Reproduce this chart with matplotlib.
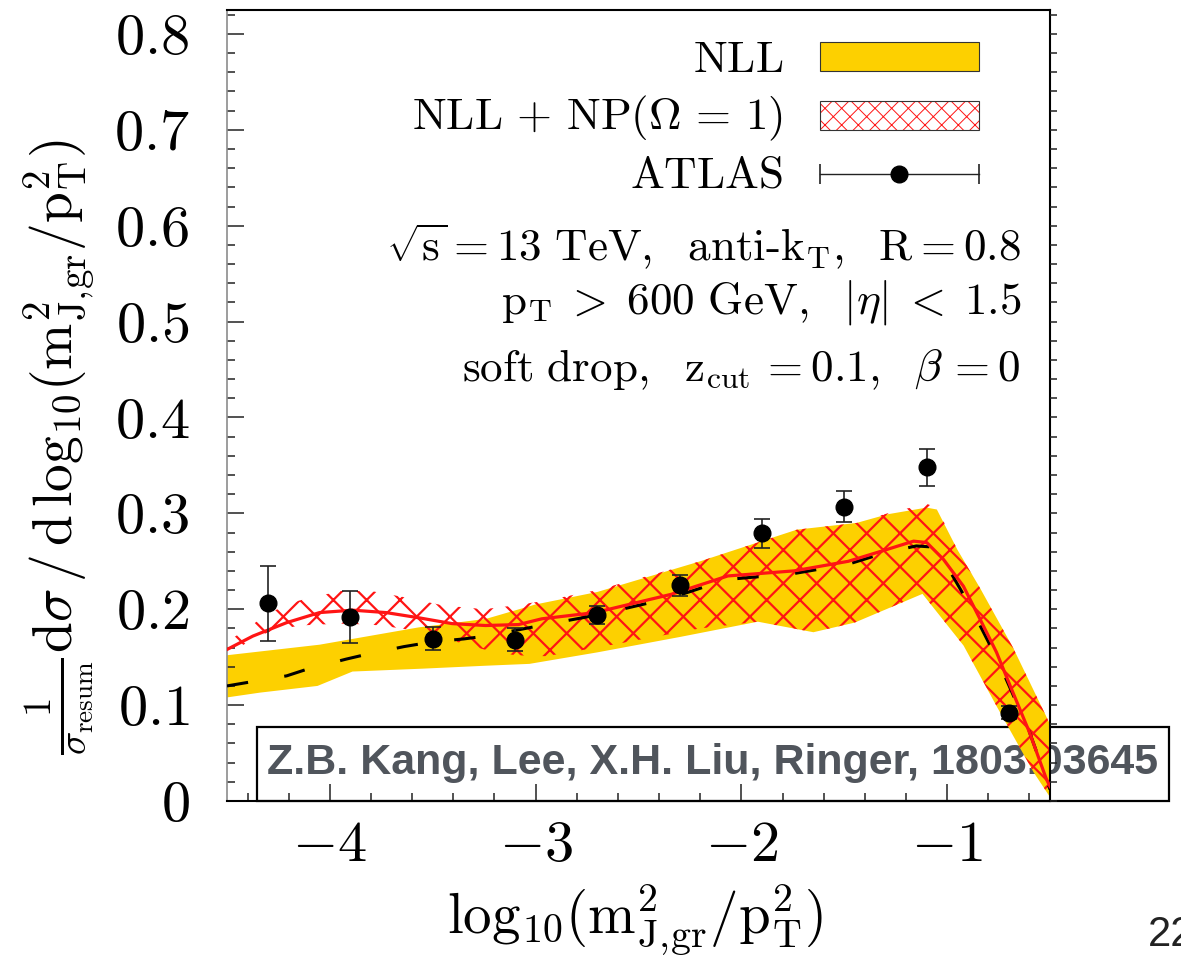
import matplotlib
matplotlib.use("Agg")
import matplotlib.pyplot as plt
from matplotlib.patches import Rectangle
from matplotlib.lines import Line2D
from matplotlib.ticker import FixedLocator, FixedFormatter, MultipleLocator

plt.rcParams["mathtext.fontset"] = "cm"
plt.rcParams["font.family"] = "serif"
plt.rcParams["font.serif"] = ["cmr10"]
plt.rcParams["axes.formatter.use_mathtext"] = True
plt.rcParams["hatch.linewidth"] = 1.6

# ---- ATLAS measurement -------------------------------------------------
atlas_x = [-4.3, -3.9, -3.5, -3.1, -2.7, -2.3, -1.9, -1.5, -1.1, -0.7]
atlas_y = [0.206, 0.192, 0.169, 0.168, 0.194, 0.225, 0.279, 0.307, 0.348, 0.092]
atlas_err = [0.039, 0.027, 0.012, 0.012, 0.0095, 0.011, 0.015, 0.016, 0.019, 0.007]

# ---- NLL band (scale variation envelope) -------------------------------
nll_lo_x = [-4.5, -4.34, -4.06, -3.89, -3.55, -3.25, -3.03, -2.70, -2.30, -1.92,
            -1.65, -1.45, -1.12, -0.92, -0.76, -0.58, -0.5]
nll_lo_y = [0.108, 0.113, 0.120, 0.135, 0.138, 0.141, 0.143, 0.155, 0.171, 0.187,
            0.176, 0.186, 0.216, 0.162, 0.099, 0.030, 0.004]
nll_up_x = [-4.5, -4.05, -3.89, -3.57, -3.24, -3.0, -2.7, -2.2, -1.73, -1.44,
            -1.29, -1.1, -1.05, -0.95, -0.84, -0.68, -0.5]
nll_up_y = [0.152, 0.163, 0.169, 0.181, 0.190, 0.205, 0.218, 0.250, 0.283, 0.290,
            0.299, 0.306, 0.304, 0.262, 0.222, 0.160, 0.080]

# NLL central value
nll_c_x = [-4.5, -4.39, -4.21, -4.11, -3.92, -3.82, -3.64, -3.5, -3.35, -3.24,
           -3.0, -2.7, -2.34, -2.07, -1.75, -1.48, -1.3, -1.15, -1.08, -1.02,
           -0.89, -0.75, -0.6, -0.5]
nll_c_y = [0.120, 0.124, 0.1305, 0.1375, 0.148, 0.153, 0.161, 0.166, 0.169, 0.172,
           0.182, 0.194, 0.212, 0.231, 0.237, 0.247, 0.259, 0.266, 0.265, 0.252,
           0.204, 0.145, 0.072, 0.012]

# ---- NLL + NP(Omega = 1) band ------------------------------------------
np_lo_x = [-4.5, -4.4, -4.3, -4.15, -3.95, -3.8, -3.65, -3.45, -3.25, -3.1, -2.95,
           -2.7, -2.45, -2.2, -1.92, -1.65, -1.45, -1.12, -0.92, -0.76, -0.58, -0.5]
np_lo_y = [0.150, 0.166, 0.176, 0.183, 0.185, 0.184, 0.180, 0.170, 0.158, 0.152, 0.151,
           0.160, 0.170, 0.180, 0.187, 0.176, 0.186, 0.216, 0.162, 0.099, 0.030, 0.004]
np_up_x = [-4.5, -4.4, -4.3, -4.15, -3.95, -3.8, -3.65, -3.45, -3.25, -3.1, -2.95,
           -2.7, -2.2, -1.73, -1.44, -1.29, -1.1, -1.05, -0.95, -0.84, -0.68, -0.5]
np_up_y = [0.166, 0.180, 0.196, 0.209, 0.219, 0.219, 0.213, 0.204, 0.200, 0.204, 0.209,
           0.220, 0.250, 0.283, 0.290, 0.300, 0.310, 0.306, 0.262, 0.222, 0.160, 0.080]

# NLL + NP central value
np_c_x = [-4.5, -4.374, -4.21, -4.05, -3.889, -3.727, -3.566, -3.406, -3.244, -3.083,
          -2.97, -2.711, -2.34, -2.066, -1.744, -1.48, -1.29, -1.163, -1.099, -1.018,
          -0.921, -0.841, -0.76, -0.68, -0.6, -0.518, -0.5]
np_c_y = [0.158, 0.172, 0.186, 0.1965, 0.199, 0.1965, 0.191, 0.185, 0.183, 0.184,
          0.190, 0.1965, 0.2156, 0.2347, 0.240, 0.250, 0.2625, 0.271, 0.2695, 0.252,
          0.224, 0.190, 0.155, 0.113, 0.0716, 0.023, 0.015]

x_major = [-4, -3, -2, -1]
x_labels = [r"$-4$", r"$-3$", r"$-2$", r"$-1$"]
y_major = [0.0, 0.1, 0.2, 0.3, 0.4, 0.5, 0.6, 0.7, 0.8]
y_labels = [r"$0$", r"$0.1$", r"$0.2$", r"$0.3$", r"$0.4$", r"$0.5$", r"$0.6$",
            r"$0.7$", r"$0.8$"]

YELLOW = "#fdd000"
RED = "#ff1414"

fig = plt.figure(figsize=(11.81, 9.69), dpi=100)
ax = fig.add_axes([0.1922, 0.1734, 0.6969, 0.8163])
ax.set_xlim(-4.5, -0.5)
ax.set_ylim(0, 0.825)

# bands
ax.fill(list(nll_lo_x) + nll_up_x[::-1], list(nll_lo_y) + nll_up_y[::-1],
        facecolor=YELLOW, edgecolor="none", lw=0, zorder=1)
ax.fill(list(np_lo_x) + np_up_x[::-1], list(np_lo_y) + np_up_y[::-1],
        facecolor="none", edgecolor=RED, hatch="x", lw=0, zorder=2)

# central curves
ax.plot(nll_c_x, nll_c_y, color="black", lw=2.2, ls=(0, (7, 12)), zorder=3)
ax.plot(np_c_x, np_c_y, color=RED, lw=2.3, zorder=4)

# data
ax.errorbar(atlas_x, atlas_y, yerr=atlas_err, fmt="o", color="black",
            ms=12, elinewidth=1.2, capsize=5.5, capthick=1.2, ecolor="#222222",
            zorder=6)

# axes styling
ax.xaxis.set_major_locator(FixedLocator(x_major))
ax.xaxis.set_major_formatter(FixedFormatter(x_labels))
ax.xaxis.set_minor_locator(MultipleLocator(0.2))
ax.yaxis.set_major_locator(FixedLocator(y_major))
ax.yaxis.set_major_formatter(FixedFormatter(y_labels))
ax.yaxis.set_minor_locator(MultipleLocator(0.02))
ax.tick_params(axis="both", which="both", direction="in", top=False, right=False,
               color="#222222")
ax.tick_params(axis="both", which="major", length=12, width=1.1, labelsize=42)
ax.tick_params(axis="both", which="minor", length=6, width=1.1)
ax.tick_params(axis="x", which="major", pad=14)
ax.tick_params(axis="y", which="major", pad=27)

ax.spines["left"].set_color("#8c8c8c")
ax.spines["left"].set_linewidth(1.2)
for s in ("bottom", "top", "right"):
    ax.spines[s].set_color("black")
    ax.spines[s].set_linewidth(1.5)

# outward ticks on the right-hand frame
axr = ax.twinx()
axr.set_ylim(ax.get_ylim())
axr.yaxis.set_major_locator(FixedLocator(y_major))
axr.yaxis.set_minor_locator(MultipleLocator(0.02))
axr.tick_params(axis="y", which="both", direction="out", length=5, width=1.1,
                labelright=False, color="#222222")
for s in axr.spines.values():
    s.set_visible(False)

ax.set_xlabel(r"$\mathrm{log}_{10}(\mathrm{m}^2_{\mathrm{J},\!\mathrm{gr}}/\mathrm{p}^2_{\mathrm{T}})$",
              fontsize=41)
ax.xaxis.set_label_coords(0.496, -0.104)
ax.set_ylabel(r"$\frac{1}{\sigma_{\mathrm{resum}}}\mathrm{d}\sigma\,/\,\mathrm{d}\,\mathrm{log}_{10}"
              r"(\mathrm{m}^2_{\mathrm{J},\!\mathrm{gr}}/\mathrm{p}^2_{\mathrm{T}})$", fontsize=40)
ax.yaxis.set_label_coords(-0.157, 0.447)

# legend, drawn in axes coordinates
tr = ax.transAxes
fs = 32.5
ax.add_patch(Rectangle((0.7205, 0.9224), 0.1932, 0.0372, transform=tr,
                       facecolor=YELLOW, edgecolor="#333333", lw=0.8, zorder=7))
leg_np = Rectangle((0.7205, 0.8483), 0.1932, 0.0370, transform=tr,
                   facecolor="white", edgecolor=RED, hatch="xx", lw=0, zorder=7)
try:
    leg_np.set_hatch_linewidth(0.7)
except AttributeError:
    pass
ax.add_patch(leg_np)
ax.add_patch(Rectangle((0.7205, 0.8483), 0.1932, 0.0370, transform=tr,
                       facecolor="none", edgecolor="#333333", lw=0.8, zorder=8))
ax.add_line(Line2D([0.7205, 0.9137], [0.7927, 0.7927], transform=tr, color="#222222",
                   lw=1.0, zorder=7))
ax.add_line(Line2D([0.7205, 0.9137], [0.7927, 0.7927], transform=tr, color="#222222",
                   lw=0, marker="|", ms=14, mew=1.2, zorder=7))
ax.add_line(Line2D([0.8169], [0.7927], transform=tr, color="black", marker="o",
                   ms=12, lw=0, zorder=8))

ax.text(0.6756, 0.9222, r"$\mathrm{NLL}$", transform=tr, ha="right", va="baseline",
        fontsize=fs)
ax.text(0.6756, 0.8496, r"$\mathrm{NLL}\,+\,\mathrm{NP}(\Omega\,=\,1)$", transform=tr,
        ha="right", va="baseline", fontsize=fs)
ax.text(0.6756, 0.775, r"$\mathrm{ATLAS}$", transform=tr, ha="right", va="baseline",
        fontsize=fs)

ax.text(0.9648, 0.6818,
        r"$\sqrt{\mathrm{s}}=13\ \mathrm{TeV},\ \ \mathrm{anti}\text{-}\mathrm{k_T},\ \ \mathrm{R}=0.8$",
        transform=tr, ha="right", va="baseline", fontsize=fs)
ax.text(0.9648, 0.6157,
        r"$\mathrm{p_T}\;>\;600\ \mathrm{GeV},\ \ |\eta|\;<\;1.5$",
        transform=tr, ha="right", va="baseline", fontsize=fs)
ax.text(0.9648, 0.5314,
        r"$\mathrm{soft\ drop},\ \ \mathrm{z_{cut}}\,=0.1,\ \ \beta\,=0$",
        transform=tr, ha="right", va="baseline", fontsize=fs)

# citation box (extends beyond the frame, sits beneath the curves)
ax.add_patch(Rectangle((257 / 1181, 1 - 801 / 969), (1169 - 257) / 1181, 74 / 969,
                       transform=fig.transFigure, facecolor="white",
                       edgecolor="black", lw=1.6, clip_on=False, zorder=0.5))
ax.text(713 / 1181, 1 - 763 / 969, "Z.B. Kang, Lee, X.H. Liu, Ringer, 1803.03645",
        transform=fig.transFigure, ha="center", va="center", fontsize=31,
        fontweight="bold", family="Liberation Sans", color="#50555c",
        clip_on=False, zorder=0.6)

fig.text(1148 / 1181, 1 - 935 / 969, "22", ha="left", va="center", fontsize=30,
         family="Liberation Sans", color="#222222")

fig.savefig("out.png", dpi=100, facecolor="white")
